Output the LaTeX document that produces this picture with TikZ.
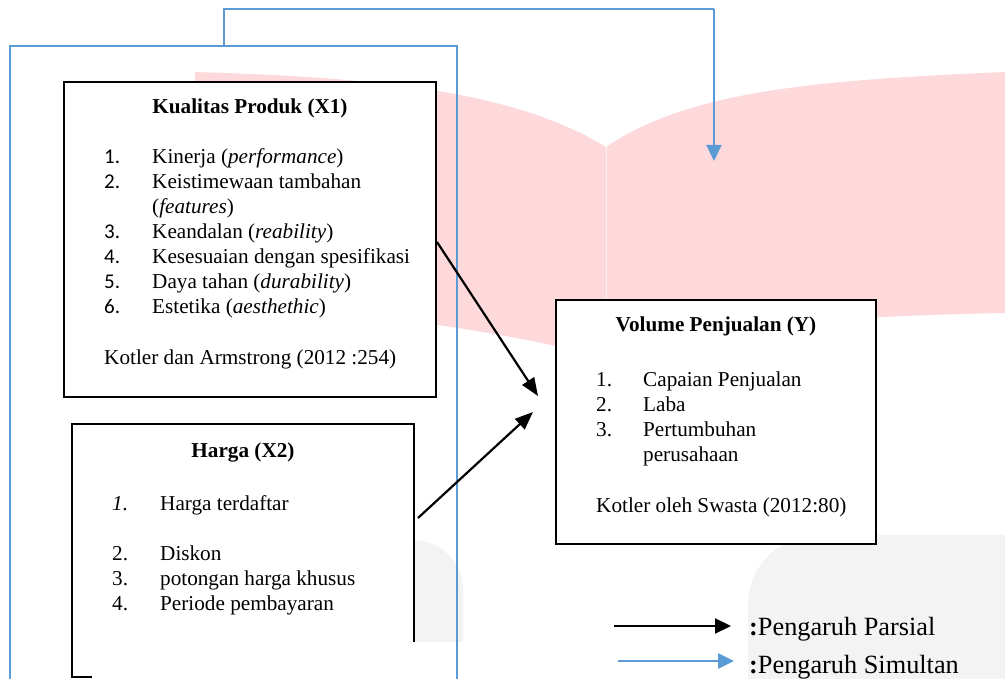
\documentclass[tikz,border=0pt]{standalone}
\usepackage{fontspec}
\setmainfont{Liberation Serif}
\newfontfamily\calibfont{Carlito}
\usetikzlibrary{arrows.meta}
\definecolor{simblue}{RGB}{91,155,213}
\definecolor{wmpink}{RGB}{253,217,219}
\definecolor{wmgrey}{RGB}{243,243,243}
\begin{document}
\begin{tikzpicture}[x=1pt,y=-1pt,
  txt/.style={inner sep=0pt,anchor=base west,font=\fontsize{21.2}{25}\selectfont},
  num/.style={txt,font=\calibfont\fontsize{21}{25}\selectfont},
  ttl/.style={inner sep=0pt,anchor=base,font=\bfseries\fontsize{21.2}{25}\selectfont},
  lgd/.style={inner sep=0pt,anchor=base west,font=\fontsize{26.3}{31}\selectfont},
  bbox/.style={draw=black,line width=2.4pt,fill=white,inner sep=0pt},
  partial/.style={draw=black,line width=2.2pt,-{Triangle[length=18pt,width=14pt]}},
  simline/.style={draw=simblue,line width=1.2pt},
  simarrow/.style={draw=simblue,line width=2.2pt,-{Triangle[length=16pt,width=15pt]}}]
\useasboundingbox (0,0) rectangle (1005,679);
% watermark
\fill[wmpink] (195,72) .. controls (400,78) and (520,95) .. (606,147)
  .. controls (690,90) and (820,80) .. (1005,72) -- (1005,313)
  .. controls (850,316) and (700,325) .. (606,358)
  .. controls (500,330) and (350,310) .. (195,300) -- cycle;
\draw[white!60!wmpink,line width=1pt] (606,147) -- (606,358);
\fill[wmgrey,rounded corners=70pt] (748,535) rectangle (1080,760);
\fill[wmgrey,rounded corners=50pt] (300,540) rectangle (463,760);
\fill[white] (92,642) rectangle (470,679);
% blue simultaneous lines
\coordinate (b1) at (10,679);
\coordinate (b2) at (10,46);
\coordinate (b3) at (457,46);
\coordinate (b4) at (457,679);
\coordinate (b5) at (224,46);
\coordinate (b6) at (224,9);
\coordinate (b7) at (714,9);
\coordinate (b8) at (714,161);
\draw[simline] (b1) -- (b2) -- (b3) -- (b4);
\draw[simline] (b5) -- (b6) -- (b7);
\draw[simarrow] (b7) -- (b8);
% X1 box
\node[bbox,minimum width=372pt,minimum height=315pt] (x1) at (250,239.5) {};
\node[ttl] (x1t) at (250,114) {Kualitas Produk (X1)};
\node[num] (n11) at (104,164) {1.};
\node[txt] (t11) at (152,164) {Kinerja (\textit{performance})};
\node[num] (n12) at (104,189) {2.};
\node[txt] (t12) at (152,189) {Keistimewaan tambahan};
\node[txt] (t12b) at (152,214) {(\textit{features})};
\node[num] (n13) at (104,239) {3.};
\node[txt] (t13) at (152,239) {Keandalan (\textit{reability})};
\node[num] (n14) at (104,264) {4.};
\node[txt] (t14) at (152,264) {Kesesuaian dengan spesifikasi};
\node[num] (n15) at (104,289) {5.};
\node[txt] (t15) at (152,289) {Daya tahan (\textit{durability})};
\node[num] (n16) at (104,314) {6.};
\node[txt] (t16) at (152,314) {Estetika (\textit{aesthethic})};
\node[txt] (x1s) at (104,365) {Kotler dan Armstrong (2012 :254)};
% X2 box (open at the bottom)
\coordinate (x2a) at (414,642);
\coordinate (x2b) at (414,424);
\coordinate (x2c) at (72,424);
\coordinate (x2d) at (72,677);
\coordinate (x2e) at (92,677);
\fill[white] (x2b) rectangle (x2d);
\draw[black,line width=2.4pt] (x2a) -- (x2b) -- (x2c) -- (x2d) -- (x2e);
\node[ttl] (x2t) at (243,457) {Harga (X2)};
\node[txt] (n21) at (112,510) {\textit{1.}};
\node[txt] (t21) at (160,510) {Harga terdaftar};
\node[txt] (n22) at (112,560) {2.};
\node[txt] (t22) at (160,560) {Diskon};
\node[txt] (n23) at (112,585) {3.};
\node[txt] (t23) at (160,585) {potongan harga khusus};
\node[txt] (n24) at (112,610) {4.};
\node[txt] (t24) at (160,610) {Periode pembayaran};
% Y box
\node[bbox,minimum width=320pt,minimum height=244pt] (y) at (716,422) {};
\node[ttl] (yt) at (716,332) {Volume Penjualan (Y)};
\node[txt] (n31) at (596,386) {1.};
\node[txt] (t31) at (643,386) {Capaian Penjualan};
\node[txt] (n32) at (596,411) {2.};
\node[txt] (t32) at (643,411) {Laba};
\node[txt] (n33) at (596,436) {3.};
\node[txt] (t33) at (643,436) {Pertumbuhan};
\node[txt] (t33b) at (643,461) {perusahaan};
\node[txt] (ys) at (596,512) {Kotler oleh Swasta (2012:80)};
% partial arrows
\coordinate (p1s) at (437,242);
\coordinate (p1e) at (538,396);
\coordinate (p2s) at (418,518);
\coordinate (p2e) at (533,412);
\draw[partial] (p1s) -- (p1e);
\draw[partial] (p2s) -- (p2e);
% legend
\coordinate (l1s) at (614,626);
\coordinate (l1e) at (731,626);
\coordinate (l2s) at (618,661);
\coordinate (l2e) at (734,661);
\draw[partial,-{Triangle[length=16pt,width=15pt]}] (l1s) -- (l1e);
\draw[simarrow,line width=2.6pt] (l2s) -- (l2e);
\node[lgd] (lg1) at (749,635) {\textbf{:}Pengaruh Parsial};
\node[lgd] (lg2) at (749,673) {\textbf{:}Pengaruh Simultan};
\end{tikzpicture}
\end{document}
